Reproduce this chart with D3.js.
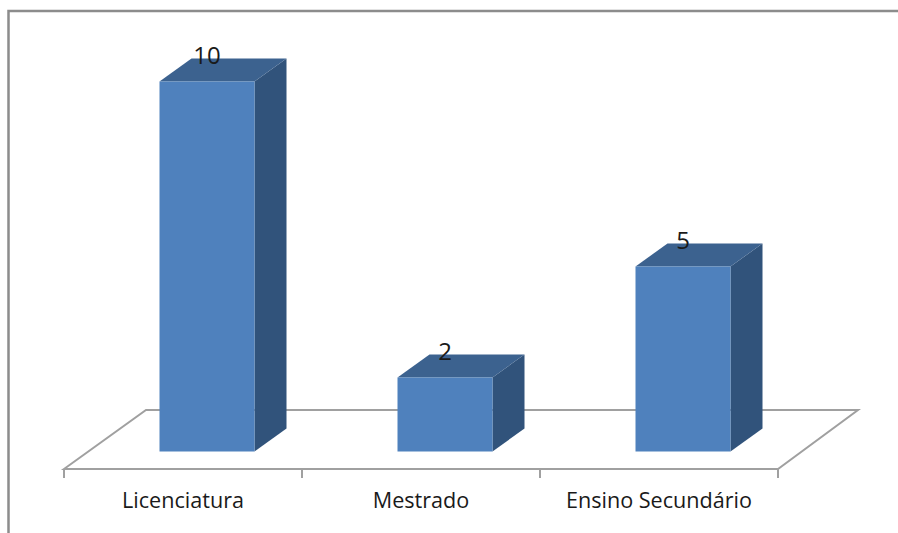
<!DOCTYPE html>
<html>
<head>
<meta charset="utf-8">
<script src="https://cdn.jsdelivr.net/npm/d3@7/dist/d3.min.js"></script>
<style>
  html, body { margin: 0; padding: 0; background: #fff; }
  svg { display: block; }
  text { font-family: "Open Sans", "Noto Sans", sans-serif; fill: #1a1a1a; }
</style>
</head>
<body>
<div id="chart"></div>
<script>
// Chart values
const categories = ["Licenciatura", "Mestrado", "Ensino Secundário"];
const values = [10, 2, 5];

const width = 898, height = 533;

// Floor plane and its receding depth
const floorLeft = 64, floorRight = 778, floorFrontY = 469;
const floorDepth = { dx: 80, dy: -59 };

// Bars sit midway into the floor, with their own depth offset
const barWidth = 95;
const barDepth = { dx: 32, dy: -23 };
const barInset = { dx: 24, dy: -17.5 };

const x = d3.scaleBand().domain(categories).range([floorLeft, floorRight]);
const y = d3.scaleLinear().domain([0, 10]).range([floorFrontY + barInset.dy, 81.5]);

const svg = d3.select("#chart").append("svg")
  .attr("width", width).attr("height", height);

// Outer chart frame, open towards the right and bottom edges
svg.append("path")
  .attr("d", `M8.5,${height} V11 H${width}`)
  .attr("fill", "none").attr("stroke", "#8c8c8c").attr("stroke-width", 2.5);

// Floor outline
const floorPath = d3.path();
floorPath.moveTo(floorLeft, floorFrontY);
floorPath.lineTo(floorLeft + floorDepth.dx + 2, floorFrontY + floorDepth.dy);
floorPath.lineTo(floorRight + floorDepth.dx, floorFrontY + floorDepth.dy);
floorPath.lineTo(floorRight, floorFrontY);
floorPath.closePath();
svg.append("path")
  .attr("d", floorPath.toString())
  .attr("fill", "none").attr("stroke", "#a0a0a0").attr("stroke-width", 2);

// Category axis with ticks on the band edges
const axis = d3.axisBottom(x).tickSize(0).tickPadding(24);
const axisG = svg.append("g")
  .attr("transform", `translate(0,${floorFrontY})`)
  .call(axis);
axisG.select(".domain").remove();
axisG.selectAll("text")
  .style("font-size", "21.6px")
  .style("font-family", '"Open Sans", "Noto Sans", sans-serif')
  .attr("fill", "#1a1a1a");

const edges = [...categories.map(c => x(c)), floorRight];
svg.selectAll("line.tick-mark").data(edges).join("line")
  .attr("class", "tick-mark")
  .attr("x1", d => d).attr("x2", d => d)
  .attr("y1", floorFrontY).attr("y2", floorFrontY + 9)
  .attr("stroke", "#a0a0a0").attr("stroke-width", 2);

// 3D bars: side, top, then front face
const rows = categories.map((c, i) => ({ c, v: values[i] }));
const barLeft = d => x(d.c) + x.bandwidth() / 2 - barWidth / 2 + barInset.dx;
const poly = pts => d3.line()(pts) + "Z";

const bars = svg.selectAll("g.bar").data(rows).join("g").attr("class", "bar");

bars.append("path")
  .attr("fill", "#31537b")
  .attr("d", d => {
    const r = barLeft(d) + barWidth, t = y(d.v), b = y(0);
    return poly([[r, t], [r + barDepth.dx, t + barDepth.dy], [r + barDepth.dx, b + barDepth.dy], [r, b]]);
  });

bars.append("path")
  .attr("fill", "#3c628f")
  .attr("d", d => {
    const l = barLeft(d), t = y(d.v);
    return poly([[l, t], [l + barDepth.dx, t + barDepth.dy], [l + barWidth + barDepth.dx, t + barDepth.dy], [l + barWidth, t]]);
  });

bars.append("rect")
  .attr("fill", "#4f81bd")
  .attr("x", barLeft)
  .attr("y", d => y(d.v))
  .attr("width", barWidth)
  .attr("height", d => y(0) - y(d.v));

// Value labels straddling the back edge of each bar top
bars.append("text")
  .attr("x", d => barLeft(d) + barWidth / 2)
  .attr("y", d => y(d.v) - 18)
  .attr("text-anchor", "middle")
  .style("font-size", "24px")
  .text(d => d.v);
</script>
</body>
</html>
